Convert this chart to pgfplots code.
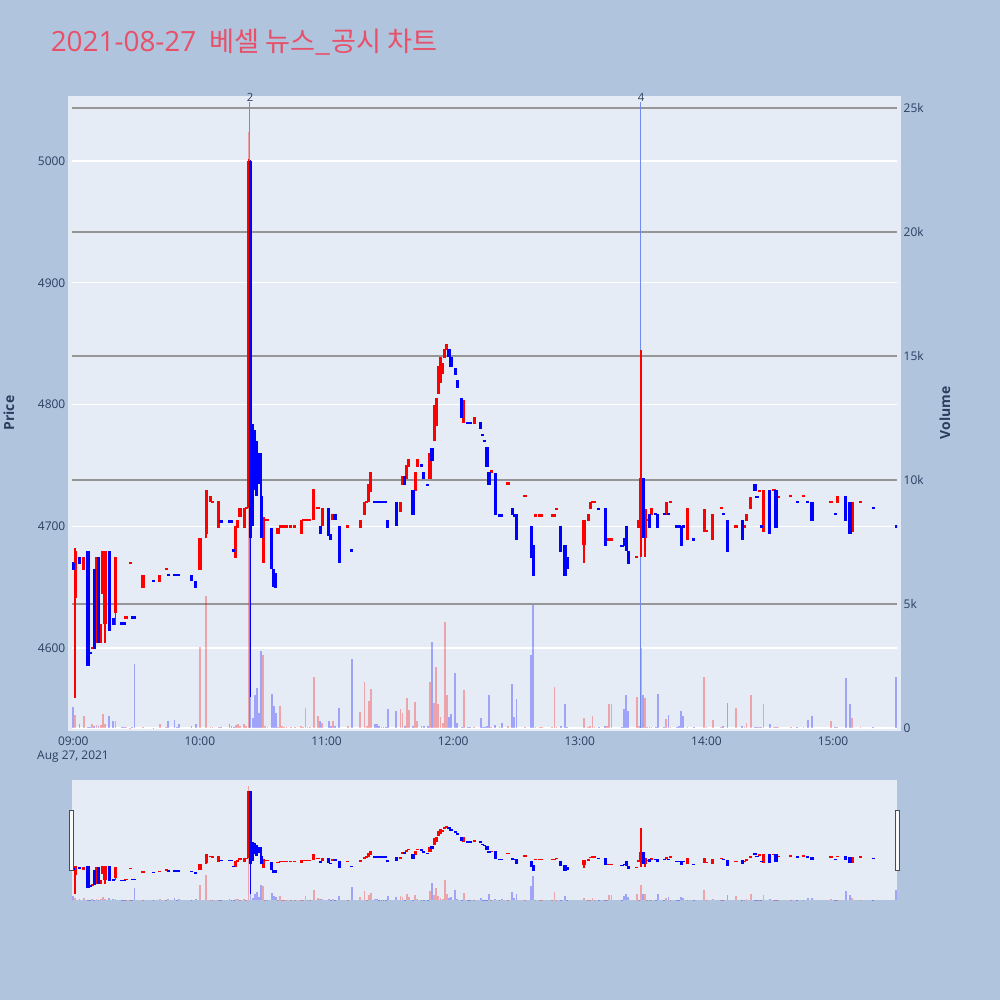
\documentclass[border=0pt]{standalone}
\usepackage{pgfplots}
\pgfplotsset{compat=1.18}
\usepackage{pgfplotstable}
\usepackage{fontspec}
\setmainfont{Open Sans}
\newfontfamily\cjk{Noto Sans CJK KR}
\definecolor{pagebg}{HTML}{B0C4DE}
\definecolor{plotbg}{HTML}{E5ECF6}
\definecolor{fontc}{HTML}{2A3F5F}
\definecolor{titlec}{RGB}{232,80,105}
\definecolor{upc}{HTML}{FF0000}
\definecolor{dnc}{HTML}{0000FF}
\definecolor{vgrid}{RGB}{150,150,150}
\definecolor{annc}{RGB}{110,140,235}

% red (rising) candles: minute after 09:00, open, high, low, close, volume
\pgfplotstableread{
t o h l c v
1 4641 4682 4559 4680 520
5 4664 4675 4664 4675 480
9 4599 4601 4599 4601 160
11 4604 4675 4604 4675 120
13 4604 4620 4604 4620 130
14 4644 4680 4644 4680 560
15 4620 4680 4604 4680 150
20 4629 4675 4619 4675 290
25 4624 4626 4624 4626 30
27 4669 4671 4669 4671 20
33 4649 4660 4649 4660 50
41 4654 4660 4654 4660 150
44 4664 4666 4664 4666 60
60 4664 4690 4664 4690 3260
63 4694 4730 4690 4730 5330
65 4720 4725 4720 4725 60
66 4719 4721 4719 4721 50
69 4699 4721 4699 4721 40
77 4674 4700 4674 4700 120
78 4699 4705 4699 4705 150
79 4708 4715 4708 4715 100
81 4699 4715 4699 4715 150
82 4714 4716 4714 4716 100
83 4715 5002 4715 5000 24030
90 4670 4708 4670 4708 2940
91 4704 4706 4704 4706 80
92 4704 4706 4704 4706 60
97 4694 4699 4694 4699 50
98 4699 4701 4699 4701 900
99 4699 4701 4699 4701 100
100 4699 4701 4699 4701 40
101 4699 4701 4699 4701 40
103 4699 4701 4699 4701 30
105 4699 4701 4699 4701 60
108 4694 4705 4694 4705 100
109 4704 4706 4704 4706 60
110 4704 4706 4704 4706 800
111 4704 4706 4704 4706 40
112 4704 4706 4704 4706 40
114 4705 4731 4705 4731 2060
116 4714 4716 4714 4716 500
118 4700 4715 4700 4715 200
123 4705 4710 4705 4710 300
130 4699 4701 4699 4701 80
136 4699 4705 4699 4705 660
138 4709 4720 4709 4720 1870
139 4719 4721 4719 4721 100
140 4720 4735 4720 4735 1100
141 4728 4745 4728 4745 1560
155 4712 4720 4712 4720 770
156 4734 4741 4734 4741 600
158 4739 4750 4739 4750 1200
159 4749 4755 4749 4755 730
162 4729 4745 4729 4745 1060
163 4749 4755 4749 4755 300
169 4739 4760 4739 4760 1840
171 4770 4800 4770 4800 1000
172 4782 4805 4782 4805 2470
173 4809 4832 4809 4832 950
174 4818 4839 4818 4839 430
175 4825 4834 4825 4834 200
176 4838 4846 4838 4846 4280
177 4845 4850 4845 4850 1340
185 4785 4804 4785 4804 1530
190 4784 4790 4784 4790 60
198 4744 4746 4744 4746 40
206 4734 4736 4734 4736 100
214 4724 4726 4724 4726 40
219 4708 4710 4708 4710 40
221 4708 4710 4708 4710 40
222 4708 4710 4708 4710 40
227 4708 4710 4708 4710 60
228 4708 4710 4708 4710 1640
229 4713 4715 4713 4715 40
242 4685 4705 4670 4705 400
244 4704 4710 4704 4710 60
245 4714 4720 4714 4720 100
246 4719 4721 4719 4721 500
247 4719 4721 4719 4721 40
253 4688 4690 4688 4690 100
254 4688 4690 4688 4690 960
255 4688 4690 4688 4690 960
267 4674 4676 4674 4676 1250
268 4699 4705 4699 4705 100
269 4700 4845 4675 4740 3210
271 4690 4714 4675 4714 1210
272 4704 4706 4704 4706 50
274 4709 4715 4709 4715 50
281 4709 4720 4709 4720 380
283 4719 4721 4719 4721 40
291 4689 4715 4689 4715 40
299 4695 4714 4695 4714 2040
300 4695 4697 4695 4697 40
303 4689 4710 4689 4710 310
307 4714 4716 4714 4716 40
314 4699 4701 4699 4701 790
318 4699 4701 4699 4701 60
319 4704 4710 4704 4710 200
321 4714 4724 4714 4724 1330
325 4728 4730 4728 4730 40
327 4695 4730 4695 4730 960
332 4729 4731 4729 4731 40
334 4723 4725 4723 4725 40
340 4724 4726 4724 4726 40
346 4724 4726 4724 4726 60
359 4719 4721 4719 4721 300
362 4719 4725 4719 4725 60
369 4695 4720 4695 4720 420
373 4719 4721 4719 4721 60
}\up

% blue (falling) candles
\pgfplotstableread{
t o h l c v
0 4670 4671 4664 4664 830
3 4675 4675 4669 4669 160
7 4680 4680 4585 4585 60
8 4597 4597 4595 4595 40
10 4665 4665 4599 4599 100
12 4675 4675 4604 4604 100
17 4680 4680 4614 4614 500
19 4625 4625 4619 4619 270
23 4621 4621 4619 4619 60
24 4621 4621 4619 4619 60
28 4626 4626 4624 4624 40
29 4626 4626 4624 4624 2580
38 4656 4656 4654 4654 20
45 4661 4661 4659 4659 270
48 4661 4661 4659 4659 330
49 4661 4661 4659 4659 60
50 4661 4661 4659 4659 150
56 4660 4660 4655 4655 100
58 4655 4655 4649 4649 150
70 4705 4705 4703 4703 30
74 4705 4705 4703 4703 160
75 4705 4705 4703 4703 100
76 4681 4681 4679 4679 60
84 5000 5001 4560 4690 5930
85 4784 4784 4700 4700 400
86 4779 4779 4730 4730 1350
87 4770 4770 4725 4725 1610
88 4760 4760 4735 4735 600
89 4725 4760 4690 4690 3100
94 4699 4699 4665 4665 1380
95 4665 4665 4650 4650 900
96 4662 4662 4649 4649 600
117 4700 4700 4694 4694 300
121 4715 4715 4692 4692 300
122 4694 4694 4689 4689 100
124 4710 4710 4705 4705 100
126 4700 4700 4670 4670 800
132 4681 4681 4679 4679 2770
143 4721 4721 4719 4719 150
144 4721 4721 4719 4719 150
145 4721 4721 4719 4719 80
146 4721 4721 4719 4719 60
147 4721 4721 4719 4719 60
148 4721 4721 4719 4719 60
149 4705 4705 4699 4699 770
153 4720 4720 4700 4700 700
157 4741 4741 4734 4734 80
161 4730 4730 4709 4709 100
165 4751 4751 4749 4749 80
166 4745 4745 4739 4739 80
168 4735 4735 4733 4733 80
170 4764 4764 4754 4754 3480
178 4846 4846 4839 4839 430
179 4839 4839 4831 4831 560
181 4830 4830 4824 4824 2200
182 4820 4820 4814 4814 200
184 4805 4805 4789 4789 50
187 4786 4786 4784 4784 60
188 4786 4786 4784 4784 40
193 4786 4786 4780 4780 400
194 4776 4776 4774 4774 40
195 4771 4771 4769 4769 60
196 4765 4765 4749 4749 100
197 4745 4745 4734 4734 1320
200 4744 4744 4709 4709 130
202 4710 4710 4708 4708 60
203 4710 4710 4708 4708 200
208 4715 4715 4709 4709 1760
209 4710 4710 4708 4708 430
210 4710 4710 4689 4689 1170
217 4700 4700 4674 4674 2940
218 4685 4685 4659 4659 4960
231 4700 4700 4679 4679 100
233 4685 4685 4659 4659 950
234 4675 4675 4665 4665 60
249 4715 4715 4713 4713 60
252 4715 4715 4684 4684 100
260 4685 4685 4683 4683 60
261 4690 4690 4684 4684 770
262 4700 4700 4680 4680 1330
263 4680 4680 4669 4669 700
270 4740 4740 4690 4690 1330
273 4710 4710 4699 4699 50
276 4711 4711 4709 4709 60
277 4710 4710 4699 4699 1370
280 4711 4711 4709 4709 50
282 4711 4711 4709 4709 540
286 4701 4701 4699 4699 50
287 4701 4701 4699 4699 70
288 4700 4700 4684 4684 700
289 4701 4701 4699 4699 470
294 4690 4690 4688 4688 60
308 4711 4711 4709 4709 100
310 4705 4705 4679 4679 1010
317 4705 4705 4689 4689 100
323 4735 4735 4729 4729 40
324 4725 4725 4723 4723 40
326 4701 4701 4699 4699 40
330 4730 4730 4694 4694 170
333 4730 4730 4699 4699 60
343 4721 4721 4719 4719 30
348 4721 4721 4719 4719 330
350 4720 4720 4704 4704 470
361 4711 4711 4709 4709 60
366 4725 4725 4704 4704 2000
368 4720 4720 4694 4694 970
379 4716 4716 4714 4714 30
390 4701 4701 4699 4699 2040
}\dn

\tikzset{tickfont/.style={font=\fontsize{9}{9}\selectfont, text=fontc}}

\pgfplotsset{
  common/.style={scale only axis, width=618.75bp, xmin=-0.6, xmax=390.3,
    axis line style={draw=none}, major tick length=0pt, tick style={draw=none},
    scaled y ticks=false,
    /pgf/number format/assume math mode=true, /pgf/number format/1000 sep={}},
  mainbox/.style={common, height=469.5bp, at={(54bp,-546bp)}, anchor=south west},
  slidebox/.style={common, height=90bp, at={(54bp,-675bp)}, anchor=south west, hide axis},
  pricey/.style={ymin=4534.3, ymax=5048.5},
  voly/.style={ymin=0, ymax=25240},
  cbar/.style 2 args={draw=none, mark=none, forget plot,
    error bars/y dir=both, error bars/y explicit, error bars/error mark=none,
    error bars/error bar style={line width=#1, draw=#2, line cap=butt}},
  vbar/.style={ycomb, mark=none, forget plot, draw=#1, draw opacity=0.3, line width=1.35bp},
}

\newcommand{\candles}[2]{% #1 body width, #2 wick width
  \addplot[cbar={#2}{upc}] table[x=t, y expr={(\thisrow{h}+\thisrow{l})/2}, y error expr={(\thisrow{h}-\thisrow{l})/2}] {\up};
  \addplot[cbar={#2}{dnc}] table[x=t, y expr={(\thisrow{h}+\thisrow{l})/2}, y error expr={(\thisrow{h}-\thisrow{l})/2}] {\dn};
  \addplot[cbar={#1}{upc}] table[x=t, y expr={(\thisrow{o}+\thisrow{c})/2}, y error expr={(\thisrow{c}-\thisrow{o})/2}] {\up};
  \addplot[cbar={#1}{dnc}] table[x=t, y expr={(\thisrow{o}+\thisrow{c})/2}, y error expr={(\thisrow{o}-\thisrow{c})/2}] {\dn};
}
\newcommand{\volumes}{%
  \addplot[vbar=upc] table[x=t, y=v] {\up};
  \addplot[vbar=dnc] table[x=t, y=v] {\dn};
}

\begin{document}
\begin{tikzpicture}[x=0.75bp, y=-0.75bp]
\useasboundingbox (0,0) rectangle (1000,1000);
\fill[pagebg] (0,0) rectangle (1000,1000);
\fill[plotbg] (68,96) rectangle (901,731);
\fill[plotbg] (72,780) rectangle (897,900);

% title
\node[anchor=base west, inner sep=0, text=titlec] at (50.5,51)
  {\fontsize{21}{25}\selectfont 2021-08-27\hspace{10bp}{\cjk\fontsize{20.5}{25}\selectfont 베셀 뉴스\_공시 차트}};

% price grid and ticks
\begin{axis}[mainbox, pricey,
  ytick={4600,4700,4800,4900,5000}, ymajorgrids,
  major grid style={white, line width=0.9bp},
  yticklabel style={tickfont, xshift=-1.5bp},
  xtick={0,60,120,180,240,300,360},
  xticklabels={09:00,10:00,11:00,12:00,13:00,14:00,15:00},
  xticklabel style={tickfont, yshift=-3bp}]
\end{axis}

% volume
\begin{axis}[mainbox, voly,
  ytick={5000,10000,15000,20000,25000}, yticklabels={5k,10k,15k,20k,25k},
  ymajorgrids, major grid style={vgrid, line width=1bp},
  extra y ticks={0}, extra y tick labels={0},
  extra y tick style={major grid style={white, line width=1.5bp}},
  yticklabel pos=right, yticklabel style={tickfont, xshift=1.5bp},
  xtick=\empty]
\volumes
\end{axis}

% candles
\begin{axis}[mainbox, pricey, ytick=\empty, xtick=\empty]
\addplot[annc, line width=0.8bp, forget plot] coordinates {(83.7,4534.3) (83.7,5048.5)};
\addplot[annc, line width=0.8bp, forget plot] coordinates {(268.9,4534.3) (268.9,5048.5)};
\candles{2.4bp}{1.4bp}
\end{axis}

% range slider
\begin{axis}[slidebox, voly]
\volumes
\end{axis}
\begin{axis}[slidebox, pricey]
\candles{2.4bp}{1.4bp}
\end{axis}

\draw[fill=white!95!gray, draw=black!70, line width=0.75bp] (69,810) rectangle (73,870);
\draw[fill=white!95!gray, draw=black!70, line width=0.75bp] (895,810) rectangle (899,870);

% labels
\node[rotate=90, font=\bfseries\fontsize{10.5}{10.5}\selectfont, text=fontc] at (9,413) {Price};
\node[rotate=90, font=\bfseries\fontsize{10.5}{10.5}\selectfont, text=fontc] at (945,413) {Volume};
\node[tickfont, inner sep=0] at (73,757) {Aug 27, 2021};
\node[font=\fontsize{8.5}{8.5}\selectfont, text=fontc, anchor=base, inner sep=0] at (250,101) {2};
\node[font=\fontsize{8.5}{8.5}\selectfont, text=fontc, anchor=base, inner sep=0] at (641,101) {4};
\end{tikzpicture}
\end{document}
